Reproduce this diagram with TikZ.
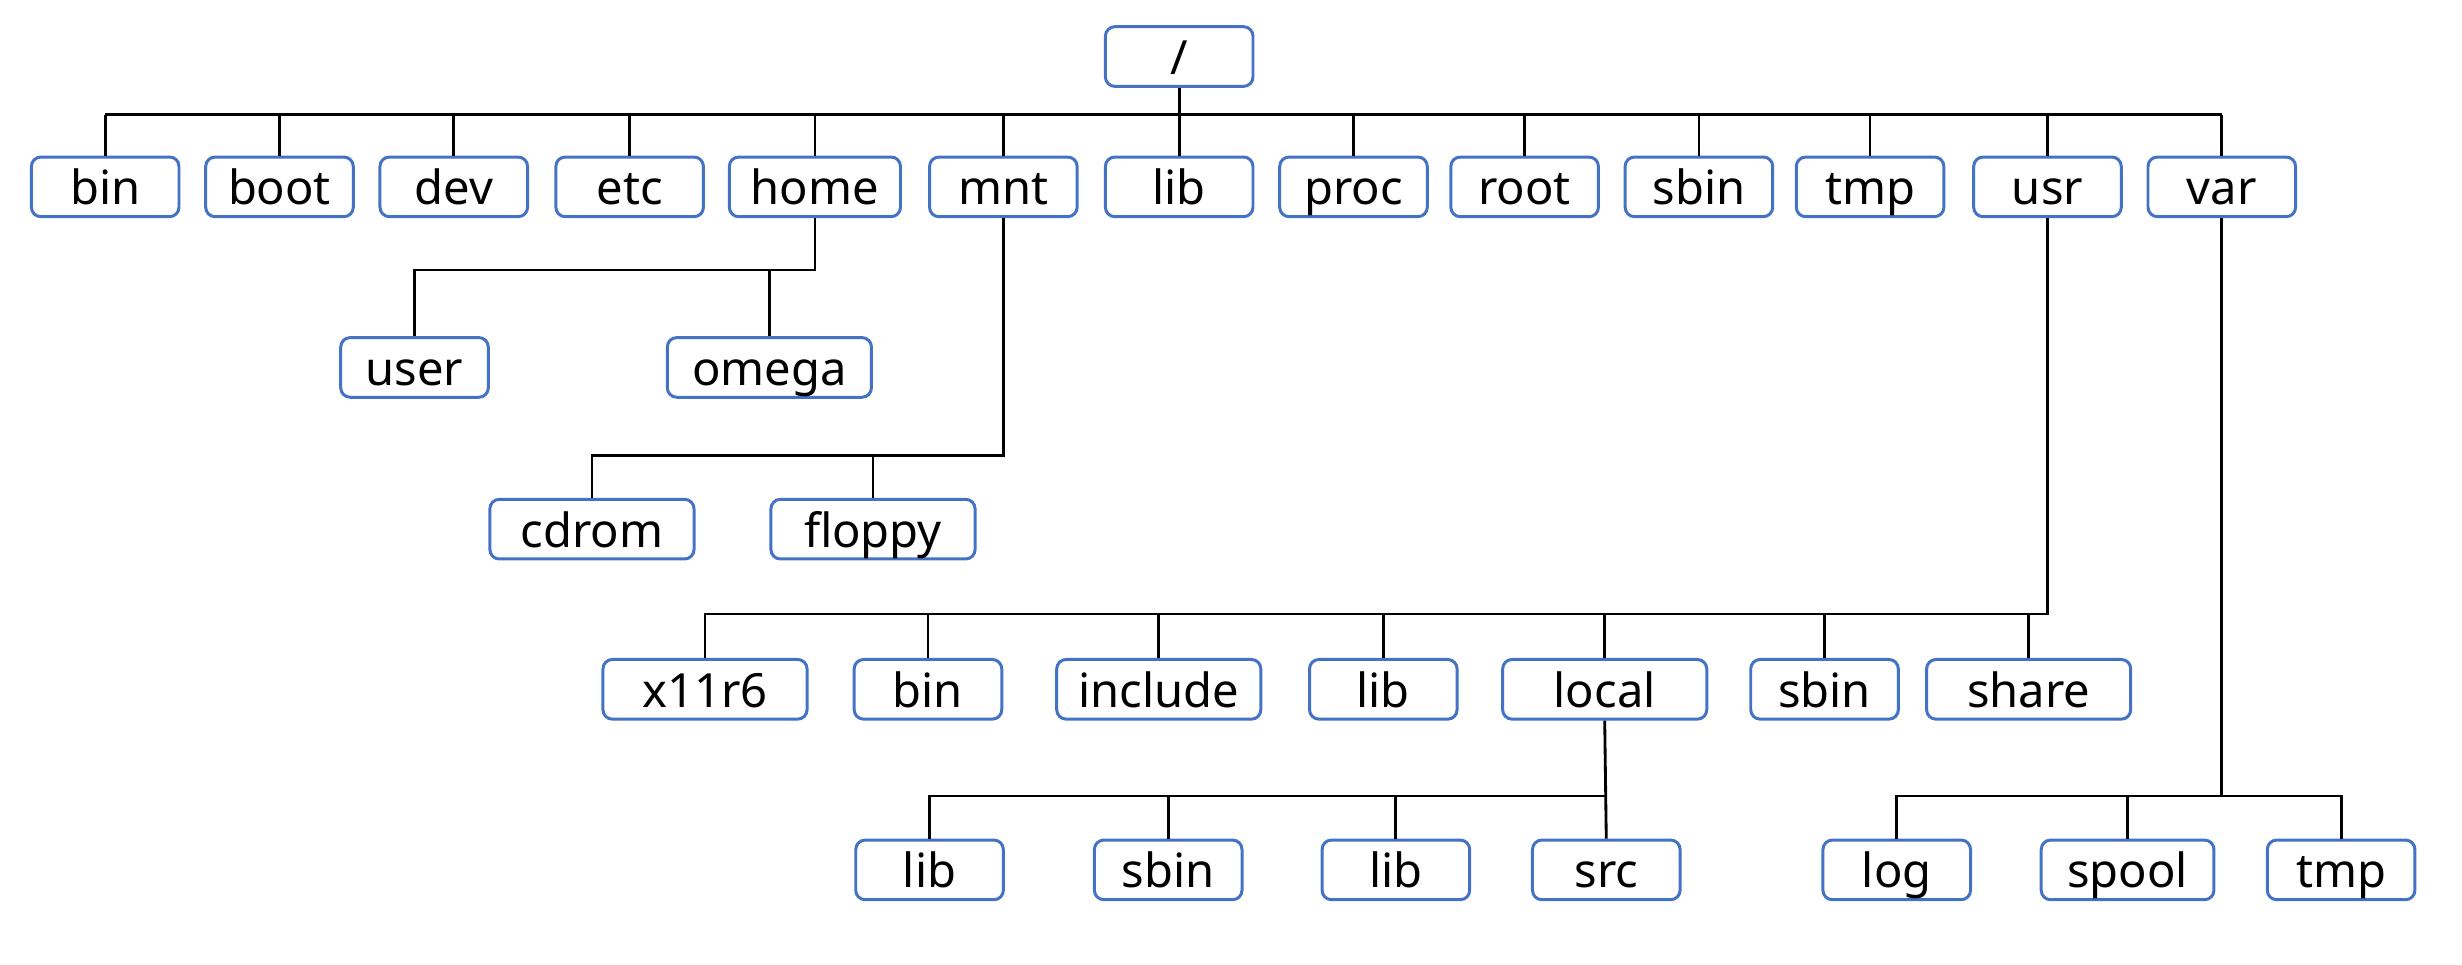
\documentclass[tikz,border=0pt]{standalone}
\usepackage{fontspec}
\setmainfont{Noto Sans}
\definecolor{boxblue}{RGB}{68,114,196}

\begin{document}
\begin{tikzpicture}[x=1pt,y=-1pt,
    dir/.style={draw=boxblue,line width=1.9pt,rounded corners=6pt,fill=white,
      minimum width=94pt,minimum height=38pt,inner sep=0pt,
      text height=26pt,text depth=3pt,font=\fontsize{30}{35}\selectfont},
    wide/.style={minimum width=130pt},
    link/.style={line width=1.8pt}]
  \useasboundingbox (0,0) rectangle (1568,614);
  \coordinate (bus) at (0,73);
  \coordinate (homebus) at (0,172);
  \coordinate (mntbus) at (0,290);
  \coordinate (usrbus) at (0,391);
  \coordinate (localbus) at (0,507);
  \coordinate (varbus) at (0,507);

  \node [dir] (top) at (751,36) {/};

  \node [dir] (bin) at (67,119) {bin};
  \node [dir] (boot) at (178,119) {boot};
  \node [dir] (dev) at (289,119) {dev};
  \node [dir] (etc) at (401,119) {etc};
  \node [dir,minimum width=109pt] (home) at (519,119) {home};
  \node [dir] (mnt) at (639,119) {mnt};
  \node [dir] (lib) at (751,119) {lib};
  \node [dir] (proc) at (862,119) {proc};
  \node [dir] (rootdir) at (971,119) {root};
  \node [dir] (sbin) at (1082,119) {sbin};
  \node [dir] (tmp) at (1191,119) {tmp};
  \node [dir] (usr) at (1304,119) {usr};
  \node [dir] (var) at (1415,119) {var};

  \node [dir] (user) at (264,234) {user};
  \node [dir,wide] (omega) at (490,234) {omega};

  \node [dir,wide] (cdrom) at (377,337) {cdrom};
  \node [dir,wide] (floppy) at (556,337) {floppy};

  \node [dir,wide] (x11r6) at (449,439) {x11r6};
  \node [dir] (ubin) at (591,439) {bin};
  \node [dir,wide] (include) at (738,439) {include};
  \node [dir] (ulib) at (881,439) {lib};
  \node [dir,wide] (local) at (1022,439) {local};
  \node [dir] (usbin) at (1162,439) {sbin};
  \node [dir,wide] (share) at (1292,439) {share};

  \node [dir] (llib) at (592,554) {lib};
  \node [dir] (lsbin) at (744,554) {sbin};
  \node [dir] (llib2) at (889,554) {lib};
  \node [dir] (src) at (1023,554) {src};

  \node [dir] (log) at (1208,554) {log};
  \node [dir,minimum width=110pt] (spool) at (1355,554) {spool};
  \node [dir] (vtmp) at (1491,554) {tmp};

  \draw [link] (top.south) -- (lib.north);
  \draw [link] (bin.north |- bus) -- (var.north |- bus);
  \draw [link] (bin.north) -- (bin.north |- bus);
  \draw [link] (boot.north) -- (boot.north |- bus);
  \draw [link] (dev.north) -- (dev.north |- bus);
  \draw [link] (etc.north) -- (etc.north |- bus);
  \draw [link] (home.north) -- (home.north |- bus);
  \draw [link] (mnt.north) -- (mnt.north |- bus);
  \draw [link] (proc.north) -- (proc.north |- bus);
  \draw [link] (rootdir.north) -- (rootdir.north |- bus);
  \draw [link] (sbin.north) -- (sbin.north |- bus);
  \draw [link] (tmp.north) -- (tmp.north |- bus);
  \draw [link] (usr.north) -- (usr.north |- bus);
  \draw [link] (var.north) -- (var.north |- bus);

  \draw [link] (home.south) -- (home.south |- homebus) -- (user.north |- homebus) -- (user.north);
  \draw [link] (omega.north) -- (omega.north |- homebus);

  \draw [link] (mnt.south) -- (mnt.south |- mntbus) -- (cdrom.north |- mntbus) -- (cdrom.north);
  \draw [link] (floppy.north) -- (floppy.north |- mntbus);

  \draw [link] (usr.south) -- (usr.south |- usrbus) -- (x11r6.north |- usrbus) -- (x11r6.north);
  \draw [link] (ubin.north) -- (ubin.north |- usrbus);
  \draw [link] (include.north) -- (include.north |- usrbus);
  \draw [link] (ulib.north) -- (ulib.north |- usrbus);
  \draw [link] (local.north) -- (local.north |- usrbus);
  \draw [link] (usbin.north) -- (usbin.north |- usrbus);
  \draw [link] (share.north) -- (share.north |- usrbus);

  \draw [link] (local.south) -- (src.north);
  \draw [link] (llib.north) -- (llib.north |- localbus) -- (src.north |- localbus);
  \draw [link] (lsbin.north) -- (lsbin.north |- localbus);
  \draw [link] (llib2.north) -- (llib2.north |- localbus);

  \draw [link] (var.south) -- (var.south |- varbus);
  \draw [link] (log.north) -- (log.north |- varbus) -- (vtmp.north |- varbus) -- (vtmp.north);
  \draw [link] (spool.north) -- (spool.north |- varbus);
\end{tikzpicture}
\end{document}
